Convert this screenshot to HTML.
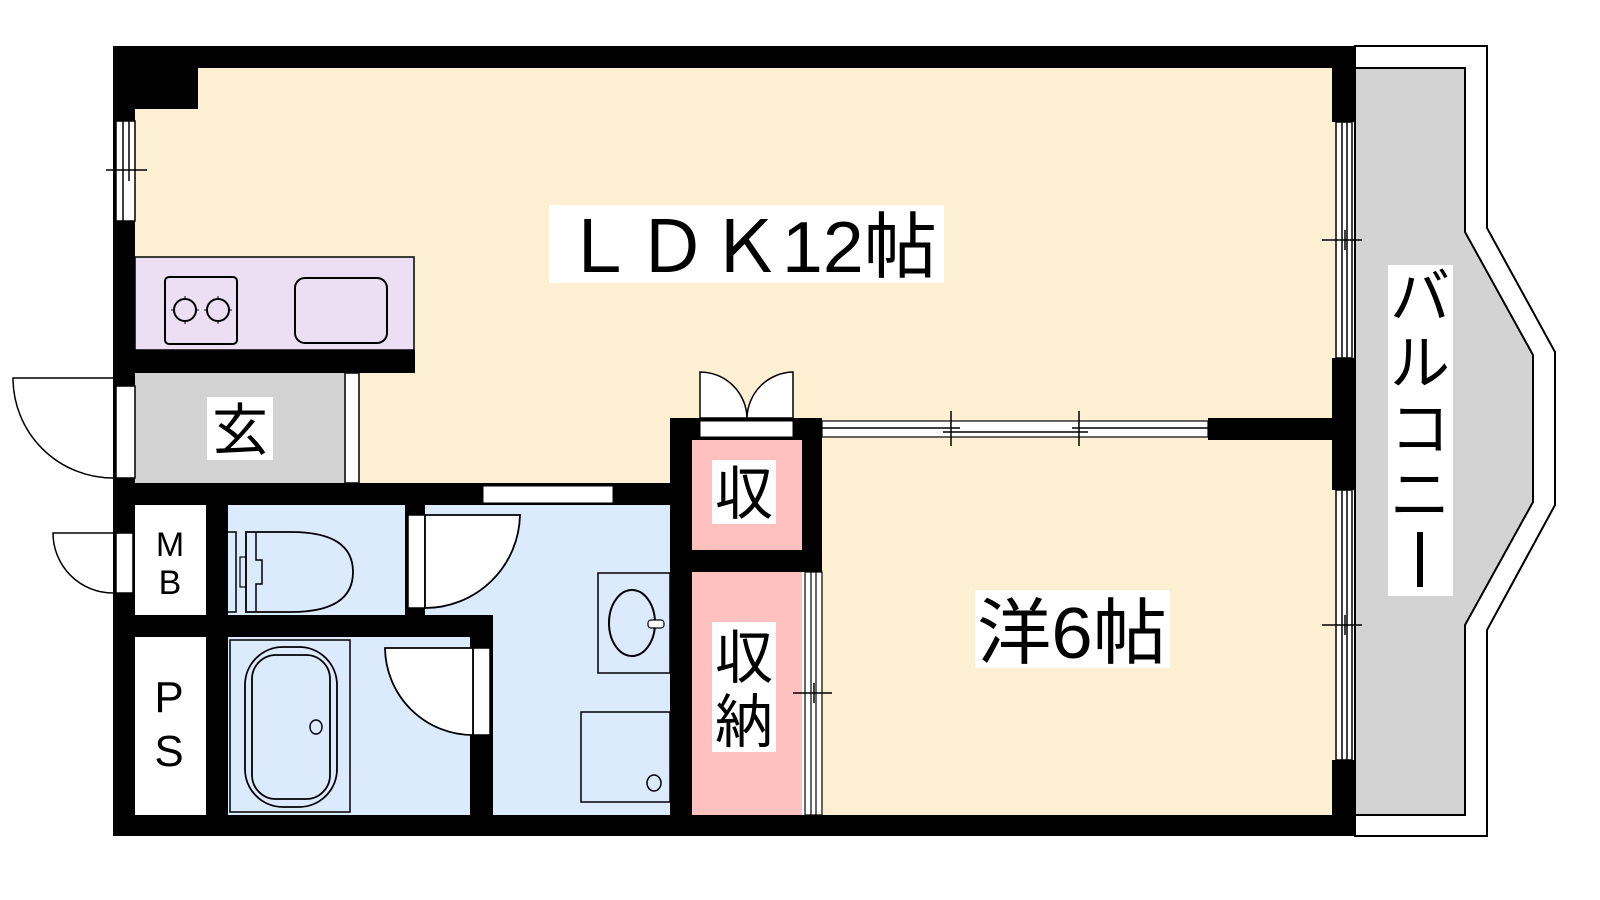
<!DOCTYPE html>
<html><head><meta charset="utf-8"><style>
html,body{margin:0;padding:0;background:#fff;}
svg{display:block;}
text{font-family:"Liberation Sans","Noto Sans CJK JP",sans-serif;fill:#000;}
</style></head><body>
<svg width="1600" height="900" viewBox="0 0 1600 900" xmlns="http://www.w3.org/2000/svg">
<!-- balcony -->
<polygon points="1355,46 1487,46 1487,228 1555,352 1555,505 1487,630 1487,836 1355,836" fill="#fff" stroke="#000" stroke-width="2"/>
<polygon points="1355,68 1465,68 1465,232 1533,355 1533,502 1465,625 1465,815 1355,815" fill="#d3d3d3" stroke="#000" stroke-width="2"/>
<!-- room fills -->
<rect x="135" y="68" width="1200" height="420" fill="#fdf0d2"/>
<rect x="822" y="440" width="513" height="375" fill="#fdf0d2"/>
<rect x="135" y="373" width="210" height="110" fill="#d3d3d3"/>
<rect x="345" y="373" width="14" height="110" fill="#fff" stroke="#000" stroke-width="1.5"/>
<rect x="135" y="505" width="71" height="110" fill="#fff"/>
<rect x="135" y="637" width="71" height="178" fill="#fff"/>
<rect x="228" y="505" width="442" height="310" fill="#dbeafd"/>
<rect x="692" y="440" width="110" height="110" fill="#ffc0c0"/>
<rect x="692" y="572" width="110" height="243" fill="#ffc0c0"/>
<!-- outer walls -->
<g fill="#000">
<rect x="113" y="46" width="1242" height="22"/>
<rect x="113" y="46" width="85" height="63"/>
<rect x="113" y="46" width="22" height="790"/>
<rect x="113" y="815" width="1242" height="21"/>
<rect x="1332" y="46" width="23" height="76"/>
<rect x="1332" y="358" width="23" height="132"/>
<rect x="1332" y="760" width="23" height="76"/>
<!-- kitchen wall -->
<rect x="135" y="350" width="280" height="23"/>
<!-- horizontal walls -->
<rect x="113" y="483" width="579" height="22"/>
<rect x="113" y="615" width="380" height="22"/>
<rect x="206" y="505" width="22" height="310"/>
<rect x="405" y="505" width="20" height="110"/>
<rect x="470" y="615" width="23" height="200"/>
<rect x="670" y="418" width="22" height="418"/>
<rect x="670" y="418" width="152" height="22"/>
<rect x="802" y="418" width="20" height="154"/>
<rect x="692" y="550" width="130" height="22"/>
<rect x="1208" y="418" width="127" height="22"/>
</g>
<!-- left window -->
<rect x="116" y="121" width="19" height="100" fill="#fff" stroke="#000" stroke-width="1.5"/>
<line x1="123" y1="121" x2="123" y2="221" stroke="#000" stroke-width="1.5"/>
<line x1="129" y1="121" x2="129" y2="181" stroke="#000" stroke-width="1.5"/>
<line x1="106" y1="170" x2="147" y2="170" stroke="#000" stroke-width="1.5"/>
<!-- entrance door -->
<rect x="116" y="386" width="19" height="92" fill="#fff" stroke="#000" stroke-width="1.5"/>
<path d="M113,378 L13,378 A100,100 0 0 0 113,478" fill="#fff" stroke="#000" stroke-width="1.5"/>
<!-- MB door -->
<rect x="116" y="533" width="17" height="60" fill="#fff" stroke="#000" stroke-width="1.5"/>
<path d="M113,533 L53,533 A60,60 0 0 0 113,593" fill="#fff" stroke="#000" stroke-width="1.5"/>
<!-- kitchen counter -->
<rect x="135" y="257" width="279" height="93" fill="#ecdff3" stroke="#000" stroke-width="1.5"/>
<rect x="165" y="277" width="72" height="67" rx="4" fill="none" stroke="#000" stroke-width="2"/>
<circle cx="185" cy="310" r="11" fill="none" stroke="#000" stroke-width="2"/>
<circle cx="218" cy="310" r="11" fill="none" stroke="#000" stroke-width="2"/>
<path d="M185,296v28M171,310h28M218,296v28M204,310h28" stroke="#000" stroke-width="1" stroke-dasharray="3,22"/>
<rect x="295" y="278" width="92" height="65" rx="10" fill="none" stroke="#000" stroke-width="2"/>
<!-- wall window between genkan and wash -->
<rect x="483" y="486" width="130" height="17" fill="#fff" stroke="#000" stroke-width="1"/>
<!-- toilet -->
<path d="M228,532 h8 v80 h-8" fill="none" stroke="#000" stroke-width="1.5"/>
<rect x="240" y="557" width="6" height="30" fill="none" stroke="#000" stroke-width="1.2"/>
<path d="M246,532 v80 h45 q62,0 62,-40 q0,-40 -62,-40 Z" fill="none" stroke="#000" stroke-width="1.8"/>
<path d="M256,532 v28 h6 v24 h-6 v28" fill="none" stroke="#000" stroke-width="1.5"/>
<!-- toilet door -->
<rect x="408" y="515" width="17" height="93" fill="#fff" stroke="#000" stroke-width="1.5"/>
<path d="M425,515 L520,515 A95,95 0 0 1 425,608 Z" fill="#fff" stroke="#000" stroke-width="1.8"/>
<!-- bath -->
<rect x="230" y="640" width="120" height="172" fill="none" stroke="#000" stroke-width="1.5"/>
<rect x="245" y="647" width="92" height="160" rx="38" fill="none" stroke="#000" stroke-width="1.8"/>
<rect x="252" y="655" width="78" height="144" rx="24" fill="none" stroke="#000" stroke-width="1.8"/>
<ellipse cx="316" cy="727" rx="6" ry="7" fill="none" stroke="#000" stroke-width="1.5"/>
<!-- bath door -->
<rect x="473" y="648" width="17" height="87" fill="#fff" stroke="#000" stroke-width="1.5"/>
<path d="M473,648 L385,648 A88,88 0 0 0 473,735 Z" fill="#fff" stroke="#000" stroke-width="1.8"/>
<!-- wash sink & machine -->
<rect x="598" y="573" width="72" height="100" fill="none" stroke="#000" stroke-width="1.5"/>
<ellipse cx="632" cy="623" rx="23" ry="33" fill="none" stroke="#000" stroke-width="2"/>
<rect x="648" y="620" width="16" height="8" rx="3" fill="#fff" stroke="#000" stroke-width="1.2"/>
<rect x="581" y="712" width="89" height="90" fill="none" stroke="#000" stroke-width="1.5"/>
<ellipse cx="654" cy="783" rx="7" ry="8" fill="none" stroke="#000" stroke-width="1.5"/>
<!-- storage double door -->
<rect x="700" y="421" width="93" height="16" fill="#fff" stroke="#000" stroke-width="1"/>
<path d="M700,418 V372 A47,47 0 0 1 747,418 Z" fill="#fff" stroke="#000" stroke-width="1.5"/>
<path d="M793,418 V372 A47,47 0 0 0 747,418 Z" fill="#fff" stroke="#000" stroke-width="1.5"/>
<!-- storage window side -->
<rect x="805" y="572" width="17" height="243" fill="#fff" stroke="#000" stroke-width="1.2"/>
<line x1="811" y1="572" x2="811" y2="815" stroke="#000" stroke-width="1.2"/>
<line x1="816" y1="572" x2="816" y2="815" stroke="#000" stroke-width="1.2"/>
<line x1="793" y1="693" x2="832" y2="693" stroke="#000" stroke-width="1.5"/>
<line x1="814" y1="683" x2="814" y2="703" stroke="#000" stroke-width="1.5"/>
<!-- LDK / yo window -->
<rect x="822" y="421" width="386" height="16" fill="#fff" stroke="#000" stroke-width="1.2"/>
<line x1="822" y1="428" x2="960" y2="428" stroke="#000" stroke-width="1.5"/>
<line x1="1072" y1="428" x2="1208" y2="428" stroke="#000" stroke-width="1.5"/>
<line x1="943" y1="432" x2="1088" y2="432" stroke="#000" stroke-width="1.5"/>
<line x1="951" y1="411" x2="951" y2="446" stroke="#000" stroke-width="1.5"/>
<line x1="1079" y1="411" x2="1079" y2="446" stroke="#000" stroke-width="1.5"/>
<!-- right windows -->
<g stroke="#000" stroke-width="1.5">
<rect x="1336" y="122" width="16" height="236" fill="#fff"/>
<line x1="1342" y1="122" x2="1342" y2="358"/><line x1="1347" y1="122" x2="1347" y2="358"/>
<line x1="1322" y1="240" x2="1362" y2="240"/><line x1="1345" y1="230" x2="1345" y2="250"/>
<rect x="1336" y="490" width="16" height="270" fill="#fff"/>
<line x1="1342" y1="490" x2="1342" y2="760"/><line x1="1347" y1="490" x2="1347" y2="760"/>
<line x1="1322" y1="625" x2="1362" y2="625"/><line x1="1345" y1="615" x2="1345" y2="635"/>
</g>
<!-- labels -->
<rect x="549" y="205" width="395" height="78" fill="#fff"/>
<text x="562" y="272" font-size="72" textLength="375" lengthAdjust="spacingAndGlyphs">ＬＤＫ12帖</text>
<rect x="975" y="590" width="195" height="78" fill="#fff"/>
<text x="977" y="658" font-size="72" textLength="190" lengthAdjust="spacingAndGlyphs">洋6帖</text>
<rect x="207" y="397" width="66" height="63" fill="#fff"/>
<text x="240" y="450" font-size="56" text-anchor="middle">玄</text>
<rect x="712" y="460" width="64" height="64" fill="#fff"/>
<text x="744" y="514" font-size="58" text-anchor="middle">収</text>
<rect x="712" y="622" width="64" height="130" fill="#fff"/>
<text x="744" y="678" font-size="58" text-anchor="middle">収</text>
<text x="744" y="742" font-size="58" text-anchor="middle">納</text>
<text x="170" y="556" font-size="34" text-anchor="middle">M</text>
<text x="170" y="594" font-size="34" text-anchor="middle">B</text>
<text x="169" y="712" font-size="44" text-anchor="middle">P</text>
<text x="169" y="766" font-size="44" text-anchor="middle">S</text>
<rect x="1388" y="265" width="65" height="331" fill="#fff"/>
<text x="1420" y="318" font-size="60" text-anchor="middle">バ</text>
<text x="1420" y="384" font-size="60" text-anchor="middle">ル</text>
<text x="1420" y="450" font-size="60" text-anchor="middle">コ</text>
<text x="1420" y="516" font-size="60" text-anchor="middle">ニ</text>
<rect x="1417" y="532" width="6" height="55" fill="#000"/>
</svg>
</body></html>
